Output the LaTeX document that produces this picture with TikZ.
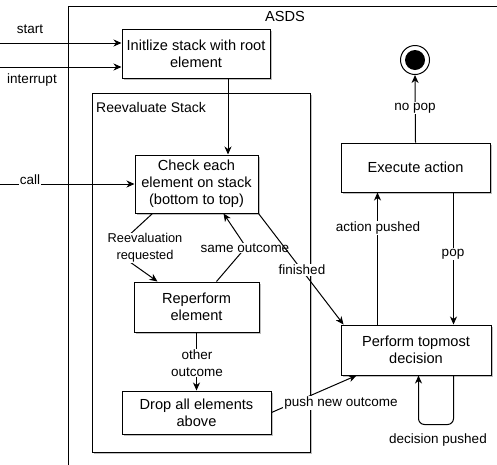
\documentclass[tikz,border=0pt]{standalone}
\usepackage{fontspec}
\setmainfont{Liberation Sans}
\usetikzlibrary{arrows.meta,shadows,calc}
\begin{document}
\begin{tikzpicture}[x=1pt,y=-1pt,
  every node/.style={font=\fontsize{14.6}{17}\selectfont},
  arr/.style={draw=black, line width=1pt, -{Stealth[length=8pt,width=7pt,inset=2.5pt]}},
  boxshadow/.style={drop shadow={shadow xshift=2pt,shadow yshift=-2pt,opacity=0.25,fill=black}},
  statebox/.style={draw, line width=1pt, fill=white, boxshadow, align=center, inner sep=2pt},
  framebox/.style={draw, line width=1pt, fill=white, boxshadow},
  lbl/.style={fill=white, inner sep=1pt, align=center, font=\fontsize{13.5}{16.7}\selectfont},
]
\clip (0,0) rectangle (497,464);

% containers
\draw[framebox] (68,6) rectangle (540,500);
\node (asdstitle) at (285,16) {ASDS};
\draw[framebox] (92,93) rectangle (310,452);
\node[anchor=west, inner sep=0, font=\fontsize{14}{17}\selectfont] (reevaltitle) at (96,107) {Reevaluate Stack};

% states
\node[statebox, minimum width=148pt, minimum height=49pt] (init) at (196,53.5) {Initlize stack with root\\element};
\node[statebox, minimum width=123pt, minimum height=58pt] (check) at (196.5,184) {Check each\\element on stack\\(bottom to top)};
\node[statebox, minimum width=125pt, minimum height=50pt] (reperf) at (196.5,307) {Reperform\\element};
\node[statebox, minimum width=149pt, minimum height=43pt] (drop) at (196.5,412.5) {Drop all elements\\above};
\node[statebox, minimum width=149pt, minimum height=49pt] (exec) at (415.5,167.5) {Execute action};
\node[statebox, minimum width=150pt, minimum height=50pt] (perf) at (416,350) {Perform topmost\\decision};

% final state
\node[circle, draw, line width=1pt, fill=white, minimum size=29pt, inner sep=0pt] (endst) at (415,60) {};
\node[circle, fill=black, minimum size=20pt, inner sep=0pt] (endcore) at (endst.center) {};

% entry points
\coordinate (startsrc) at (0,43);
\coordinate (intsrc) at (0,67);
\coordinate (callsrc) at (0,184);
\draw[arr] (startsrc) -- (startsrc -| init.west);
\node[lbl, fill=none] (startlbl) at (30,29) {start};
\draw[arr] (intsrc) -- (intsrc -| init.west);
\node[lbl, fill=none] (intlbl) at (32,80) {interrupt};
\draw[arr] (callsrc) -- (check.west);
\node[lbl] (calllbl) at (30,180) {call};

% transitions
\draw[arr] ($(init.south)+(32,0)$) -- ($(check.north)+(31.5,0)$);

\coordinate (rrbend) at (113,250);
\draw[arr] ($(check.south west)+(18,0)$) -- (rrbend) -- ($(reperf.north west)+(24,0)$);
\node[lbl, font=\fontsize{12.8}{16.7}\selectfont] (rrlbl) at (145,248) {Reevaluation\\requested};

\coordinate (sobend) at (246,247);
\draw[arr] ($(reperf.north)+(20,0)$) -- (sobend) -- ($(check.south)+(27,0)$);
\node[lbl] (solbl) at (245,248) {same outcome};

\draw[arr] (check.south east) -- ($(perf.north west)+(3,0)$);
\node[lbl] (finlbl) at (302,270) {finished};

\draw[arr] (reperf.south) -- (drop.north);
\node[lbl] (oolbl) at (197,363) {other\\outcome};

\draw[arr] (drop.east) -- ($(perf.south west)+(16,0)$);
\node[lbl] (pnolbl) at (341,403) {push new outcome};

\draw[arr] ($(perf.north west)+(37,0)$) -- ($(exec.south west)+(37,0)$);
\node[lbl] (aplbl) at (378,228) {action pushed};

\draw[arr] ($(exec.south east)+(-37,0)$) -- ($(perf.north east)+(-38,0)$);
\node[lbl] (poplbl) at (453,254) {pop};

\draw[arr] (exec.north) -- (endst.south);
\node[lbl] (noplbl) at (415,108) {no pop};

\draw[arr, rounded corners=6pt] ($(perf.south east)+(-38,0)$) -- ++(0,49) -- ++(-35,0) -- ($(perf.south east)+(-73,0)$);
\node[lbl] (dplbl) at (438,440) {decision pushed};
\end{tikzpicture}
\end{document}
